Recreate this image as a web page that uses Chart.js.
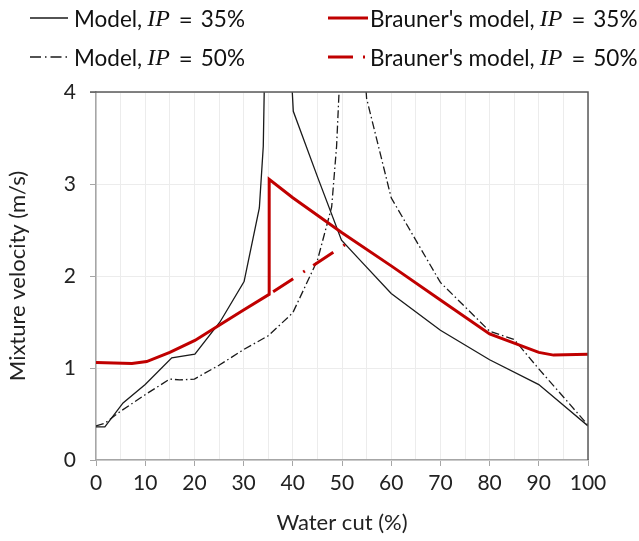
<!DOCTYPE html>
<html>
<head>
<meta charset="utf-8">
<script src="https://cdn.jsdelivr.net/npm/chart.js@4.4.1/dist/chart.umd.min.js"></script>
<style>
  body { margin: 0; background: #fff; }
  #wrap { position: relative; width: 639px; height: 541px; }
  .leg { position: absolute; height: 30px; display: flex; align-items: center;
         font-family: Lato, sans-serif; font-size: 22.5px; color: #111; white-space: nowrap; }
  .leg svg { margin-right: 4px; }
  .ip { font-family: "Liberation Serif", serif; font-style: italic; font-size: 24px; margin-left: 5px; }
  .eq { font-family: Lato, sans-serif; font-size: 24px; margin: 0 8px 0 9px; }
</style>
</head>
<body>
<div id="wrap">
  <canvas id="myChart" width="639" height="541"></canvas>
  <div class="leg" style="left:30px;top:3px">
    <svg width="40" height="6"><line x1="0" y1="3" x2="38" y2="3" stroke="#1a1a1a" stroke-width="1.4"/></svg>
    <span>Model,</span><span class="ip">IP</span><span class="eq">=</span><span>35%</span>
  </div>
  <div class="leg" style="left:30px;top:42px">
    <svg width="40" height="6"><line x1="0" y1="3" x2="39" y2="3" stroke="#1a1a1a" stroke-width="1.4" stroke-dasharray="11 4 1.5 4"/></svg>
    <span>Model,</span><span class="ip">IP</span><span class="eq">=</span><span>50%</span>
  </div>
  <div class="leg" style="left:328px;top:3px">
    <svg width="40" height="6"><line x1="0" y1="3" x2="40" y2="3" stroke="#c00000" stroke-width="3"/></svg>
    <span style="margin-left:-2px">Brauner's model,</span><span class="ip">IP</span><span class="eq">=</span><span>35%</span>
  </div>
  <div class="leg" style="left:328px;top:42px">
    <svg width="40" height="6"><line x1="0" y1="3" x2="38" y2="3" stroke="#c00000" stroke-width="3" stroke-dasharray="25 10 2 10"/></svg>
    <span style="margin-left:-2px">Brauner's model,</span><span class="ip">IP</span><span class="eq">=</span><span>50%</span>
  </div>
</div>
<script>
// water cut (%) and mixture velocity (m/s)
// values above 4 are only there so the curve leaves the top of the plot
var wc_m35 = [0, 1.8, 5.5, 10, 15.4, 20.1, 25.2, 30.1, 33.2, 34.0, 34.35, 39.4, 40.1, 45, 49.9, 53, 60, 70, 80, 90, 100];
var v_m35  = [0.36, 0.36, 0.62, 0.82, 1.11, 1.15, 1.50, 1.94, 2.74, 3.41, 4.5, 4.5, 3.79, 3.08, 2.39, 2.21, 1.81, 1.41, 1.09, 0.82, 0.37];

var wc_m50 = [0, 1.8, 5, 10, 15, 17, 20, 25, 30, 35, 40, 45, 47.9, 48.9, 49.4, 49.8, 54.3, 55, 60, 70, 80, 85, 90, 100];
var v_m50  = [0.37, 0.40, 0.53, 0.71, 0.88, 0.87, 0.88, 1.03, 1.20, 1.35, 1.60, 2.17, 2.75, 3.41, 4.0, 4.5, 4.5, 3.93, 2.85, 1.93, 1.40, 1.31, 0.99, 0.38];

var wc_b35 = [0, 7.3, 10.3, 15, 20.1, 25.2, 30, 35.2, 35.2, 40, 50, 60, 70, 80, 85, 90, 93, 100];
var v_b35  = [1.06, 1.05, 1.07, 1.17, 1.30, 1.47, 1.63, 1.80, 3.05, 2.85, 2.47, 2.11, 1.74, 1.37, 1.27, 1.17, 1.14, 1.15];

var wc_b50 = [35.2, 50.6];
var v_b50  = [1.80, 2.34];

var xTicks = [0, 10, 20, 30, 40, 50, 60, 70, 80, 90, 100];
var yTicks = [0, 1, 2, 3, 4];

function pts(xs, ys) {
    return xs.map(function (x, i) { return {x: x, y: ys[i]}; });
}

var frame = {
    id: 'frame',
    afterDatasetsDraw: function (chart) {
        var ctx = chart.ctx, a = chart.chartArea;
        ctx.save();
        ctx.strokeStyle = '#595959';
        ctx.lineWidth = 1.5;
        ctx.beginPath();
        ctx.moveTo(a.left - 6, a.top);
        ctx.lineTo(a.right, a.top);
        ctx.lineTo(a.right, a.bottom);
        ctx.stroke();
        ctx.restore();
    }
};

var tickFont = {family: 'Lato, sans-serif', size: 21};
var titleFont = {family: 'Lato, sans-serif', size: 22};

var ctx = document.getElementById('myChart').getContext('2d');
var myChart = new Chart(ctx, {
    type: 'line',
    data: {
        datasets: [{
            label: 'Brauner 50',
            data: pts(wc_b50, v_b50),
            borderColor: '#c00000',
            borderWidth: 3,
            borderDash: [24, 12, 2, 10],
            borderDashOffset: 43.3,
            pointRadius: 0,
            tension: 0,
            clip: 0
        }, {
            label: 'Brauner 35',
            data: pts(wc_b35, v_b35),
            borderColor: '#c00000',
            borderWidth: 3,
            pointRadius: 0,
            tension: 0,
            clip: 0
        }, {
            label: 'Model 50',
            data: pts(wc_m50, v_m50),
            borderColor: '#1a1a1a',
            borderWidth: 1.3,
            borderDash: [8, 3, 1.5, 3],
            pointRadius: 0,
            tension: 0,
            clip: 0
        }, {
            label: 'Model 35',
            data: pts(wc_m35, v_m35),
            borderColor: '#1a1a1a',
            borderWidth: 1.3,
            pointRadius: 0,
            tension: 0,
            clip: 0
        }]
    },
    options: {
        responsive: false,
        animation: false,
        devicePixelRatio: 1,
        layout: { padding: {top: 92, right: 51, left: 0, bottom: 0} },
        plugins: { legend: {display: false}, tooltip: {enabled: false} },
        scales: {
            x: {
                type: 'linear',
                min: 0, max: 100,
                afterFit: function (s) { s.height = 81; },
                afterBuildTicks: function (s) {
                    var t = [];
                    for (var v = 0; v <= 100; v += 5) t.push({value: v});
                    s.ticks = t;
                },
                ticks: {
                    autoSkip: false, maxRotation: 0, padding: 5,
                    color: '#222', font: tickFont,
                    callback: function (v) { return xTicks.indexOf(v) >= 0 ? String(v) : ''; }
                },
                grid: {
                    color: '#ececec', lineWidth: 1, tickLength: 6,
                    tickColor: function (c) { return (c.tick && c.tick.value % 10 === 0) ? '#a6a6a6' : 'rgba(0,0,0,0)'; }
                },
                border: { color: '#a6a6a6', width: 1.5 },
                title: {
                    display: true, text: 'Water cut (%)', color: '#222',
                    font: titleFont, padding: {top: 0, bottom: 5}
                }
            },
            y: {
                min: 0, max: 4,
                afterFit: function (s) { s.width = 96; },
                afterBuildTicks: function (s) {
                    s.ticks = yTicks.map(function (v) { return {value: v}; });
                },
                ticks: { padding: 14, color: '#222', font: tickFont },
                grid: { color: '#ececec', tickLength: 6, tickColor: '#a6a6a6' },
                border: { color: '#a6a6a6', width: 1.5 },
                title: {
                    display: true, text: 'Mixture velocity (m/s)', color: '#222',
                    font: titleFont, padding: {top: 5, bottom: 0}
                }
            }
        }
    },
    plugins: [frame]
});
</script>
</body>
</html>
